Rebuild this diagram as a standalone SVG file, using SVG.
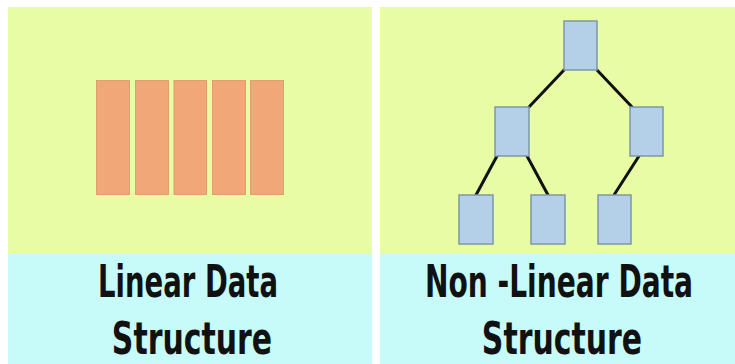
<svg xmlns="http://www.w3.org/2000/svg" width="735" height="364" viewBox="0 0 735 364">
<style>
.top{fill:#e8fca6}
.bot{fill:#c6fbfa}
.cell{fill:#f0a878;stroke:#e29c6e;stroke-width:1}
.node{fill:#b4d0e8;stroke:#7d97a6;stroke-width:1.5}
.edge{stroke:#111;stroke-width:3;fill:none;stroke-linecap:round}
.lbl{font-family:"DejaVu Sans Condensed","Liberation Sans",Arial,sans-serif;font-weight:bold;font-size:44px;fill:#111;text-anchor:middle}
</style>
<rect width="735" height="364" fill="#ffffff"/>
<g id="panel-linear">
<rect class="top" x="8" y="7" width="364" height="247"/>
<rect class="bot" x="8" y="254" width="364" height="110"/>
</g>
<g id="panel-nonlinear">
<rect class="top" x="380" y="7" width="355" height="247"/>
<rect class="bot" x="380" y="254" width="355" height="110"/>
</g>
<g id="array">
<rect class="cell" x="96.5" y="80.5" width="33" height="114"/>
<rect class="cell" x="135.5" y="80.5" width="33" height="114"/>
<rect class="cell" x="174" y="80.5" width="32.5" height="114"/>
<rect class="cell" x="212.5" y="80.5" width="33" height="114"/>
<rect class="cell" x="250.5" y="80.5" width="33" height="114"/>
</g>
<g id="connectors">
<line class="edge" x1="564" y1="70" x2="529" y2="107"/>
<line class="edge" x1="597" y1="70" x2="632" y2="107"/>
<line class="edge" x1="497" y1="156" x2="476" y2="195"/>
<line class="edge" x1="527" y1="156" x2="548" y2="195"/>
<line class="edge" x1="639" y1="156" x2="614" y2="195"/>
</g>
<g id="node-root"><rect class="node" x="564" y="21" width="33" height="49"/></g>
<g id="node-left"><rect class="node" x="495" y="107" width="34" height="49"/></g>
<g id="node-right"><rect class="node" x="630" y="107" width="33" height="49"/></g>
<g id="node-ll"><rect class="node" x="459" y="195" width="34" height="49"/></g>
<g id="node-lr"><rect class="node" x="531" y="195" width="34" height="49"/></g>
<g id="node-rl"><rect class="node" x="598" y="195" width="33" height="49"/></g>
<g id="label-linear">
<text class="lbl" transform="translate(188 297) scale(0.7 1)" x="0" y="0" textLength="257" lengthAdjust="spacingAndGlyphs">Linear Data</text>
<text class="lbl" transform="translate(192 354) scale(0.7 1)" x="0" y="0" textLength="229" lengthAdjust="spacingAndGlyphs">Structure</text>
</g>
<g id="label-nonlinear">
<text class="lbl" transform="translate(559 297) scale(0.7 1)" x="0" y="0" textLength="383" lengthAdjust="spacingAndGlyphs">Non -Linear Data</text>
<text class="lbl" transform="translate(562 354) scale(0.7 1)" x="0" y="0" textLength="229" lengthAdjust="spacingAndGlyphs">Structure</text>
</g>
</svg>
